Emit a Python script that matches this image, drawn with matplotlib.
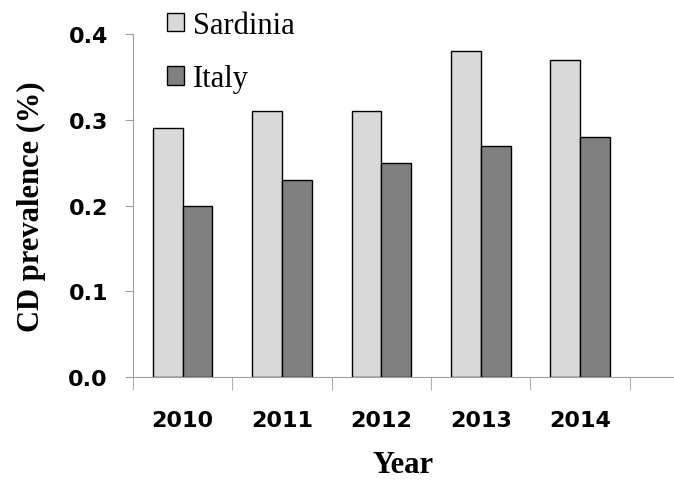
import matplotlib.pyplot as plt
import numpy as np

years = ['2010', '2011', '2012', '2013', '2014']
sardinia = [0.29, 0.31, 0.31, 0.38, 0.37]
italy = [0.20, 0.23, 0.25, 0.27, 0.28]

fig = plt.figure(figsize=(6.74, 4.81), dpi=100)
ax = fig.add_axes([0.1973, 0.2141, 0.8027, 0.713])

x = np.arange(len(years))
w = 0.3
b1 = ax.bar(x - w / 2, sardinia, w, color='#d9d9d9', edgecolor='black', linewidth=1, label='Sardinia')
b2 = ax.bar(x + w / 2, italy, w, color='#808080', edgecolor='black', linewidth=1, label='Italy')

ax.set_xlim(-0.5, 4.5 + 44 / 99)
ax.set_ylim(0, 0.4)
ax.set_yticks([0, 0.1, 0.2, 0.3, 0.4])
ax.set_yticklabels(['0.0', '0.1', '0.2', '0.3', '0.4'], fontsize=16, fontweight='bold')
ax.set_xticks(x)
ax.set_xticklabels(years, fontsize=16, fontweight='bold')
ax.tick_params(axis='x', which='major', length=0, pad=24)
ax.set_xticks(np.arange(-0.5, 5, 1), minor=True)
ax.tick_params(axis='x', which='minor', length=9, color='#a0a0a0', direction='out')
ax.tick_params(axis='y', length=6, color='#a0a0a0', pad=12)

for s in ['top', 'right']:
    ax.spines[s].set_visible(False)
for s in ['left', 'bottom']:
    ax.spines[s].set_color('#a0a0a0')

ax.set_ylabel('CD prevalence (%)', family='Liberation Serif', fontsize=22, fontweight='bold', labelpad=16)
ax.set_xlabel('Year', family='Liberation Serif', fontsize=22, fontweight='bold', labelpad=14)

fig.legend(handles=[b1, b2], loc='upper left', bbox_to_anchor=(0.248, 0.975), frameon=False,
           prop={'family': 'Liberation Serif', 'size': 22}, handlelength=0.55, handleheight=0.55,
           handletextpad=0.3, labelspacing=0.8, borderpad=0, borderaxespad=0)

plt.savefig('out.png', dpi=100)
